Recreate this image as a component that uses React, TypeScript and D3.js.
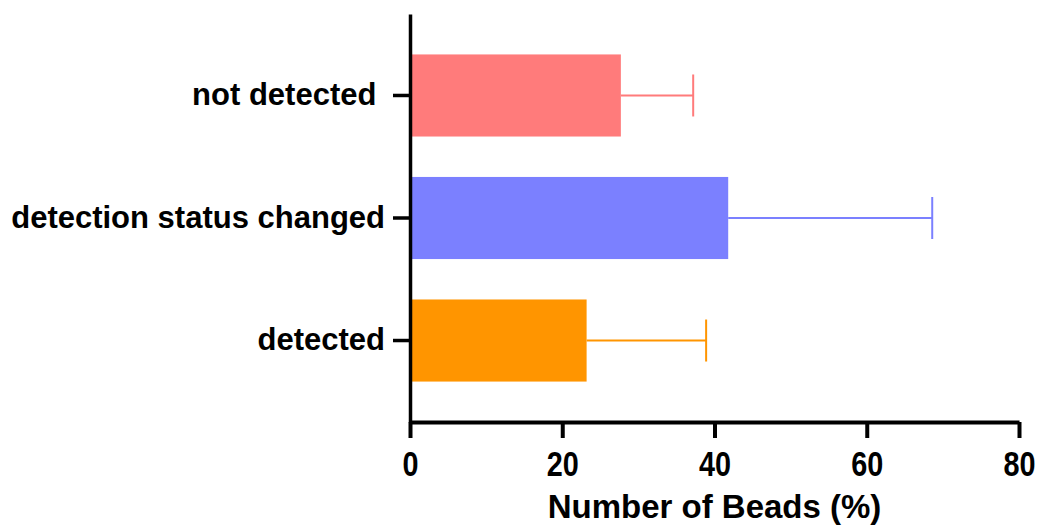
import React, { useEffect, useRef } from "react";
import * as d3 from "d3";

// categories top -> bottom
const categories = ["not detected ", "detection status changed", "detected"];
const means = [27.7, 41.8, 23.2];
const errors = [9.5, 26.8, 15.7]; // upper error (SD) added to mean
const colors = ["#FF7B7B", "#7B80FF", "#FF9500"];
const xTicks = [0, 20, 40, 60, 80];
const xTitle = "Number of Beads (%)";

const W = 1043;
const H = 526;

const App = () => {
	const ref = useRef<SVGSVGElement>(null);

	useEffect(() => {
		const margin = { top: 14, right: 24, bottom: 104, left: 410 };
		const width = 1019 - margin.left;
		const height = 422 - margin.top;

		const svg = d3.select(ref.current);
		svg.selectAll("*").remove();

		const g = svg
			.append("g")
			.attr("transform", `translate(${margin.left}, ${margin.top})`);

		const x = d3.scaleLinear().domain([0, 80]).range([0, width]);
		const y = d3
			.scaleBand()
			.domain(categories)
			.range([0, height])
			.paddingInner(0.33)
			.paddingOuter(0.33);

		// bars
		g.selectAll(".bar")
			.data(categories)
			.enter()
			.append("rect")
			.attr("x", 0)
			.attr("y", (d) => y(d)!)
			.attr("width", (d, i) => x(means[i]))
			.attr("height", y.bandwidth())
			.attr("fill", (d, i) => colors[i]);

		// error bars (one sided)
		const eb = g
			.selectAll(".err")
			.data(categories)
			.enter()
			.append("g")
			.attr("stroke", (d, i) => colors[i])
			.attr("stroke-width", 2);
		eb.append("line")
			.attr("x1", (d, i) => x(means[i]))
			.attr("x2", (d, i) => x(means[i] + errors[i]))
			.attr("y1", (d) => y(d)! + y.bandwidth() / 2)
			.attr("y2", (d) => y(d)! + y.bandwidth() / 2);
		eb.append("line")
			.attr("x1", (d, i) => x(means[i] + errors[i]))
			.attr("x2", (d, i) => x(means[i] + errors[i]))
			.attr("y1", (d) => y(d)! + y.bandwidth() / 2 - 21)
			.attr("y2", (d) => y(d)! + y.bandwidth() / 2 + 21);

		// x axis
		const xa = g
			.append("g")
			.attr("transform", `translate(0, ${height})`)
			.call(d3.axisBottom(x).tickValues(xTicks).tickSize(16).tickSizeOuter(0).tickPadding(12));
		xa.select(".domain").attr("stroke", "#000").attr("stroke-width", 4);
		xa.selectAll(".tick line").attr("stroke", "#000").attr("stroke-width", 4);
		// condensed digits like the original
		xa.selectAll(".tick text")
			.attr("fill", "#000")
			.attr("transform", "scale(0.8, 1)")
			.style("font-family", "'Liberation Sans', Arial, Helvetica, sans-serif")
			.style("font-weight", "bold")
			.style("font-size", "36px");
		xa.selectAll(".tick text").attr("x", function () {
			return 0;
		});

		// y axis
		const ya = g
			.append("g")
			.call(d3.axisLeft(y).tickSize(17).tickSizeOuter(0).tickPadding(8));
		ya.select(".domain").attr("stroke", "#000").attr("stroke-width", 3.5);
		ya.selectAll(".tick line").attr("stroke", "#000").attr("stroke-width", 3.5);
		ya.selectAll(".tick text")
			.attr("fill", "#000")
			.style("white-space", "pre")
			.style("font-family", "'Liberation Sans', Arial, Helvetica, sans-serif")
			.style("font-weight", "bold")
			.style("font-size", "31px");

		// x title
		g.append("text")
			.attr("x", width / 2)
			.attr("y", height + 96)
			.attr("text-anchor", "middle")
			.style("font-family", "'Liberation Sans', Arial, Helvetica, sans-serif")
			.style("font-weight", "bold")
			.style("font-size", "33px")
			.text(xTitle);
	}, []);

	return (
		<svg
			ref={ref}
			width={W}
			height={H}
			style={{ position: "absolute", left: 0, top: 0, background: "#fff" }}
		></svg>
	);
};

export default App;
